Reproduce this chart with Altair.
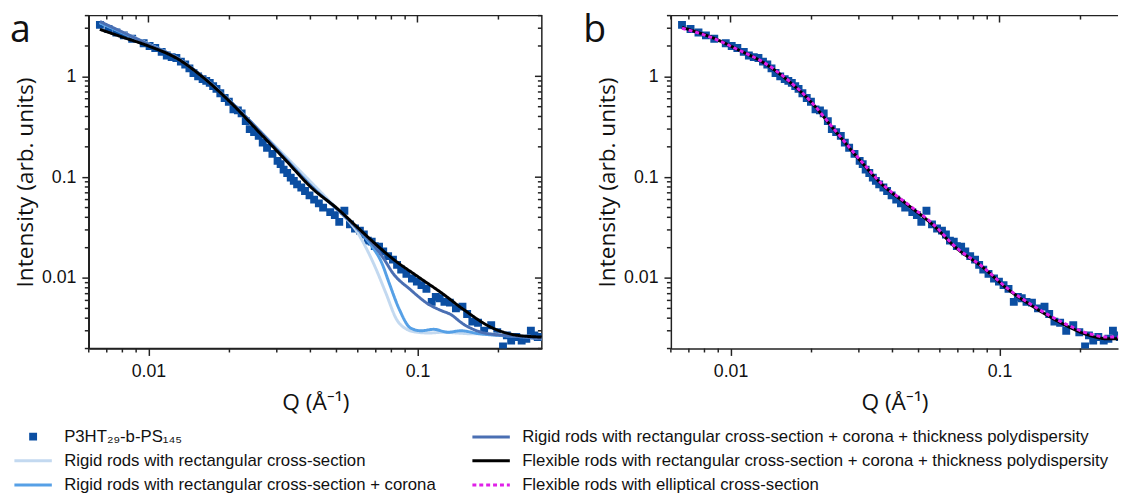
import altair as alt
import pandas as pd

# ---------------- data ----------------
q_data = [0.0066, 0.0071, 0.0076, 0.0081, 0.0087, 0.0096, 0.0101, 0.0106, 0.0112, 0.0117,
          0.0122, 0.0127, 0.0132, 0.0137, 0.0142, 0.0147, 0.0153, 0.0159, 0.0164, 0.0169,
          0.0174, 0.0179, 0.0185, 0.0192, 0.0199, 0.0207, 0.0215, 0.0222, 0.0230, 0.0238,
          0.0247, 0.0257, 0.0266, 0.0276, 0.0289, 0.0302, 0.0310, 0.0318, 0.0328, 0.0338,
          0.0347, 0.0357, 0.0370, 0.0382, 0.0397, 0.0413, 0.0430, 0.0446, 0.0474, 0.0493,
          0.0512, 0.0535, 0.0561, 0.0586, 0.0611, 0.0632, 0.0654, 0.0676, 0.0694, 0.0720,
          0.0746, 0.0778, 0.0811, 0.0840, 0.0870, 0.0910, 0.0954, 0.0995, 0.1035, 0.108,
          0.113, 0.117, 0.121, 0.126, 0.132, 0.139, 0.147, 0.153, 0.160, 0.168,
          0.177, 0.188, 0.198, 0.208, 0.215, 0.223, 0.233, 0.244, 0.254, 0.264, 0.272, 0.280]
i_data = [3.24, 2.95, 2.72, 2.55, 2.36, 2.13, 2.00, 1.91, 1.75, 1.61,
          1.55, 1.52, 1.40, 1.31, 1.20, 1.08, 1.00, 0.94, 0.90, 0.86,
          0.80, 0.75, 0.68, 0.61, 0.56, 0.47, 0.46, 0.43, 0.36, 0.30,
          0.28, 0.257, 0.22, 0.196, 0.17, 0.145, 0.135, 0.119, 0.11, 0.099,
          0.092, 0.085, 0.079, 0.073, 0.066, 0.060, 0.055, 0.050, 0.045, 0.042,
          0.036, 0.0465, 0.034, 0.031, 0.0295, 0.027, 0.0235, 0.023, 0.0207, 0.0205,
          0.0184, 0.0165, 0.0152, 0.0135, 0.0121, 0.0110, 0.0099, 0.0092, 0.0085, 0.0078,
          0.0058, 0.0065, 0.0063, 0.0058, 0.0057, 0.0050, 0.0052, 0.0044, 0.0037, 0.0036,
          0.0030, 0.0034, 0.0029, 0.0021, 0.0027, 0.0024, 0.0026, 0.0024, 0.0025, 0.0030, 0.0027, 0.0026]

# panel a model curves
rigid_q = [0.0066, 0.0080, 0.0100, 0.0129, 0.0160, 0.0205, 0.0261, 0.0324, 0.0401, 0.0460,
           0.0530, 0.0600, 0.0650, 0.0695, 0.0763, 0.0836, 0.0913, 0.100, 0.110, 0.125,
           0.140, 0.160, 0.185, 0.22, 0.26, 0.29]
rigid_i = [3.4, 2.75, 2.1, 1.5, 0.98, 0.54, 0.285, 0.16, 0.090, 0.062,
           0.042, 0.028, 0.019, 0.0130, 0.0071, 0.0039, 0.0031, 0.0029, 0.00285, 0.0029,
           0.00285, 0.0028, 0.0028, 0.0027, 0.0026, 0.0025]
corona_q = [0.0066, 0.0080, 0.0100, 0.0129, 0.0160, 0.0205, 0.0261, 0.0324, 0.0401, 0.0512,
            0.0597, 0.0674, 0.0737, 0.0784, 0.0856, 0.0942, 0.103, 0.115, 0.130, 0.145,
            0.170, 0.200, 0.250, 0.29]
corona_i = [3.4, 2.7, 2.08, 1.5, 0.98, 0.54, 0.28, 0.152, 0.083, 0.046,
            0.031, 0.021, 0.0141, 0.0090, 0.0049, 0.0032, 0.0030, 0.0031, 0.0029, 0.0030,
            0.0028, 0.0027, 0.0026, 0.0025]
poly_q = [0.0066, 0.0080, 0.0100, 0.0129, 0.0160, 0.0205, 0.0261, 0.0324, 0.0401, 0.0512,
          0.0597, 0.0695, 0.075, 0.081, 0.094, 0.110, 0.124, 0.132, 0.148, 0.173,
          0.21, 0.25, 0.29]
poly_i = [3.5, 2.75, 2.08, 1.5, 0.98, 0.54, 0.28, 0.15, 0.082, 0.046,
          0.031, 0.0205, 0.0155, 0.0112, 0.0077, 0.0055, 0.0047, 0.0044, 0.0035, 0.0029,
          0.0027, 0.0026, 0.0025]
flex_a_q = [0.0066, 0.0080, 0.0100, 0.0129, 0.0160, 0.0205, 0.0261, 0.0324, 0.0401, 0.0512,
            0.0597, 0.0695, 0.081, 0.100, 0.124, 0.148, 0.190, 0.236, 0.29]
flex_a_i = [2.92, 2.45, 2.0, 1.48, 0.97, 0.53, 0.27, 0.147, 0.080, 0.047,
            0.032, 0.022, 0.0155, 0.0104, 0.0070, 0.0049, 0.0032, 0.0027, 0.0026]

# panel b model curves
flex_b_q = [0.0066, 0.00865, 0.0107, 0.0133, 0.0165, 0.0198, 0.0245, 0.0304, 0.0365, 0.0452,
            0.0561, 0.0696, 0.0863, 0.107, 0.132, 0.169, 0.216, 0.25, 0.29]
flex_b_i = [3.05, 2.39, 1.83, 1.36, 0.89, 0.566, 0.287, 0.145, 0.085, 0.0541,
            0.0343, 0.0195, 0.0129, 0.0078, 0.0053, 0.0036, 0.0027, 0.0025, 0.0025]
ell_q = flex_b_q
ell_i = [3.0, 2.38, 1.83, 1.37, 0.90, 0.57, 0.29, 0.147, 0.086, 0.055,
         0.035, 0.0197, 0.013, 0.0079, 0.0054, 0.0037, 0.0028, 0.0026, 0.0026]

# axis ticks
x_major = [0.01, 0.1]
x_minor = [0.006, 0.007, 0.008, 0.009, 0.02, 0.03, 0.04, 0.05, 0.06, 0.07, 0.08, 0.09, 0.2]
y_major = [0.01, 0.1, 1]
y_minor = [0.002, 0.003, 0.004, 0.005, 0.006, 0.007, 0.008, 0.009,
           0.02, 0.03, 0.04, 0.05, 0.06, 0.07, 0.08, 0.09,
           0.2, 0.3, 0.4, 0.5, 0.6, 0.7, 0.8, 0.9, 2, 3, 4]

SER_DATA = "P3HT₂₉-b-PS₁₄₅"
SER_RIGID = "Rigid rods with rectangular cross-section"
SER_CORONA = "Rigid rods with rectangular cross-section + corona"
SER_POLY = "Rigid rods with rectangular cross-section + corona + thickness polydispersity"
SER_FLEX = "Flexible rods with rectangular cross-section + corona + thickness polydispersity"
SER_ELL = "Flexible rods with elliptical cross-section"

legend_order = [SER_DATA, SER_RIGID, SER_CORONA, SER_POLY, SER_FLEX, SER_ELL]
colors = ["#0b4ea2", "#c3d9f0", "#56a0e6", "#4a6fb3", "#000000", "#e020e8"]
SQUARE = "M-1,-0.62H1M-1,0H1M-1,0.62H1"
LINE = "M-4.75,0H4.75"
shapes = [SQUARE, LINE, LINE, LINE, LINE, LINE]
dashes = [[1, 0], [1, 0], [1, 0], [1, 0], [1, 0], [4, 3]]

W, H = 460, 338
WB = 454
FRAME = "#222222"

xs_a = alt.Scale(type="log", domain=[0.006, 0.29], nice=False)
xs_b = alt.Scale(type="log", domain=[0.006, 0.2758], nice=False)
ys = alt.Scale(type="log", domain=[0.002, 4], nice=False)

leg = alt.Legend(title=None, orient="none", legendX=-65, legendY=419, columns=2,
                 columnPadding=30, rowPadding=6.5, labelFont="Liberation Sans",
                 labelFontSize=17, labelColor="#111111", labelLimit=900,
                 labelOffset=23, symbolSize=64, symbolStrokeWidth=3)

color_enc = alt.Color("series:N", scale=alt.Scale(domain=legend_order, range=colors), legend=leg)
shape_enc = alt.Shape("series:N", scale=alt.Scale(domain=legend_order, range=shapes), legend=leg)
dash_enc = alt.StrokeDash("series:N", scale=alt.Scale(domain=legend_order, range=dashes), legend=leg)

x_axis = alt.Axis(values=x_major, format="~g", title="Q (Å⁻¹)", tickSize=7, tickWidth=1.5,
                  tickColor=FRAME, domainColor=FRAME, domainWidth=1.5, labelPadding=7,
                  labelFont="Liberation Sans", labelFontSize=18, labelColor="#111111",
                  titleFont="Open Sans", titleFontSize=23, titleFontWeight="normal",
                  titleColor="#111111", titlePadding=12, grid=False)
y_axis = alt.Axis(values=y_major, format="~g", title="Intensity (arb. units)", tickSize=7,
                  tickWidth=1.5, tickColor=FRAME, domainColor=FRAME, domainWidth=1.5,
                  labelPadding=6, labelFont="Liberation Sans", labelFontSize=18,
                  labelColor="#111111", titleFont="Open Sans", titleFontSize=23,
                  titleFontWeight="normal", titleColor="#111111", titlePadding=4, grid=False)


def curve_frame(pairs):
    rows = []
    for name, qs, vals in pairs:
        for q, v in zip(qs, vals):
            rows.append({"series": name, "q": q, "I": v})
    return pd.DataFrame(rows)


def tick_layers(xs, width, right_side):
    xmaj = pd.DataFrame({"v": x_major})
    xmin = pd.DataFrame({"v": x_minor})
    ymaj = pd.DataFrame({"v": y_major})
    ymin = pd.DataFrame({"v": y_minor})
    rule = dict(color=FRAME, strokeWidth=1.5)
    X = alt.X("v:Q", scale=xs, axis=x_axis)
    Y = alt.Y("v:Q", scale=ys, axis=y_axis)
    layers = [
        alt.Chart(xmin).mark_rule(**rule).encode(x=X, y=alt.value(H), y2=alt.value(H + 4)),
        alt.Chart(ymin).mark_rule(**rule).encode(y=Y, x=alt.value(0), x2=alt.value(-4)),
        alt.Chart(xmaj).mark_rule(**rule).encode(x=X, y=alt.value(0), y2=alt.value(7)),
        alt.Chart(xmin).mark_rule(**rule).encode(x=X, y=alt.value(0), y2=alt.value(4)),
    ]
    if right_side:
        layers += [
            alt.Chart(ymaj).mark_rule(**rule).encode(y=Y, x=alt.value(width), x2=alt.value(width - 7)),
            alt.Chart(ymin).mark_rule(**rule).encode(y=Y, x=alt.value(width), x2=alt.value(width - 4)),
        ]
    else:
        # top frame line only (the right edge is cut off in the reference)
        layers.append(alt.Chart(pd.DataFrame({"v": [1]})).mark_rule(**rule).encode(
            x=alt.value(0), x2=alt.value(width), y=alt.value(0)))
    return layers


def panel(curves, label, label_dx, xs, width, right_side):
    pts = pd.DataFrame({"series": SER_DATA, "q": q_data, "I": i_data})
    points = alt.Chart(pts).mark_point(filled=False, size=64, strokeWidth=3, opacity=1,
                                       clip=True).encode(
        x=alt.X("q:Q", scale=xs, axis=x_axis),
        y=alt.Y("I:Q", scale=ys, axis=y_axis),
        color=color_enc, shape=shape_enc)
    lines = alt.Chart(curve_frame(curves)).mark_line(strokeWidth=3, clip=True,
                                                     interpolate="monotone").encode(
        x=alt.X("q:Q", scale=xs, axis=x_axis),
        y=alt.Y("I:Q", scale=ys, axis=y_axis),
        color=color_enc, strokeDash=dash_enc, detail="series:N")
    txt = alt.Chart(pd.DataFrame({"lab": [label]})).mark_text(
        font="Open Sans", fontSize=38, align="left", baseline="top", color="#111111"
    ).encode(text="lab:N", x=alt.value(label_dx), y=alt.value(-3))
    ch = alt.layer(points, lines, *tick_layers(xs, width, right_side), txt).properties(
        width=width, height=H)
    if not right_side:
        ch = ch.properties(view=alt.ViewBackground(stroke="transparent"))
    return ch


panel_a = panel([(SER_RIGID, rigid_q, rigid_i), (SER_CORONA, corona_q, corona_i),
                 (SER_POLY, poly_q, poly_i), (SER_FLEX, flex_a_q, flex_a_i)],
                "a", -80, xs_a, W, True)
panel_b = panel([(SER_FLEX, flex_b_q, flex_b_i), (SER_ELL, ell_q, ell_i)],
                "b", -89, xs_b, WB, False)

chart = alt.hconcat(panel_a, panel_b, spacing=131, bounds="flush").resolve_scale(
    color="shared", shape="shared", strokeDash="shared"
).properties(
    padding={"left": 1, "top": 0, "right": 0, "bottom": 0}
).configure_view(stroke=FRAME, strokeWidth=1.5)

chart.save("out.html", embed_options={"renderer": "svg", "actions": False})
